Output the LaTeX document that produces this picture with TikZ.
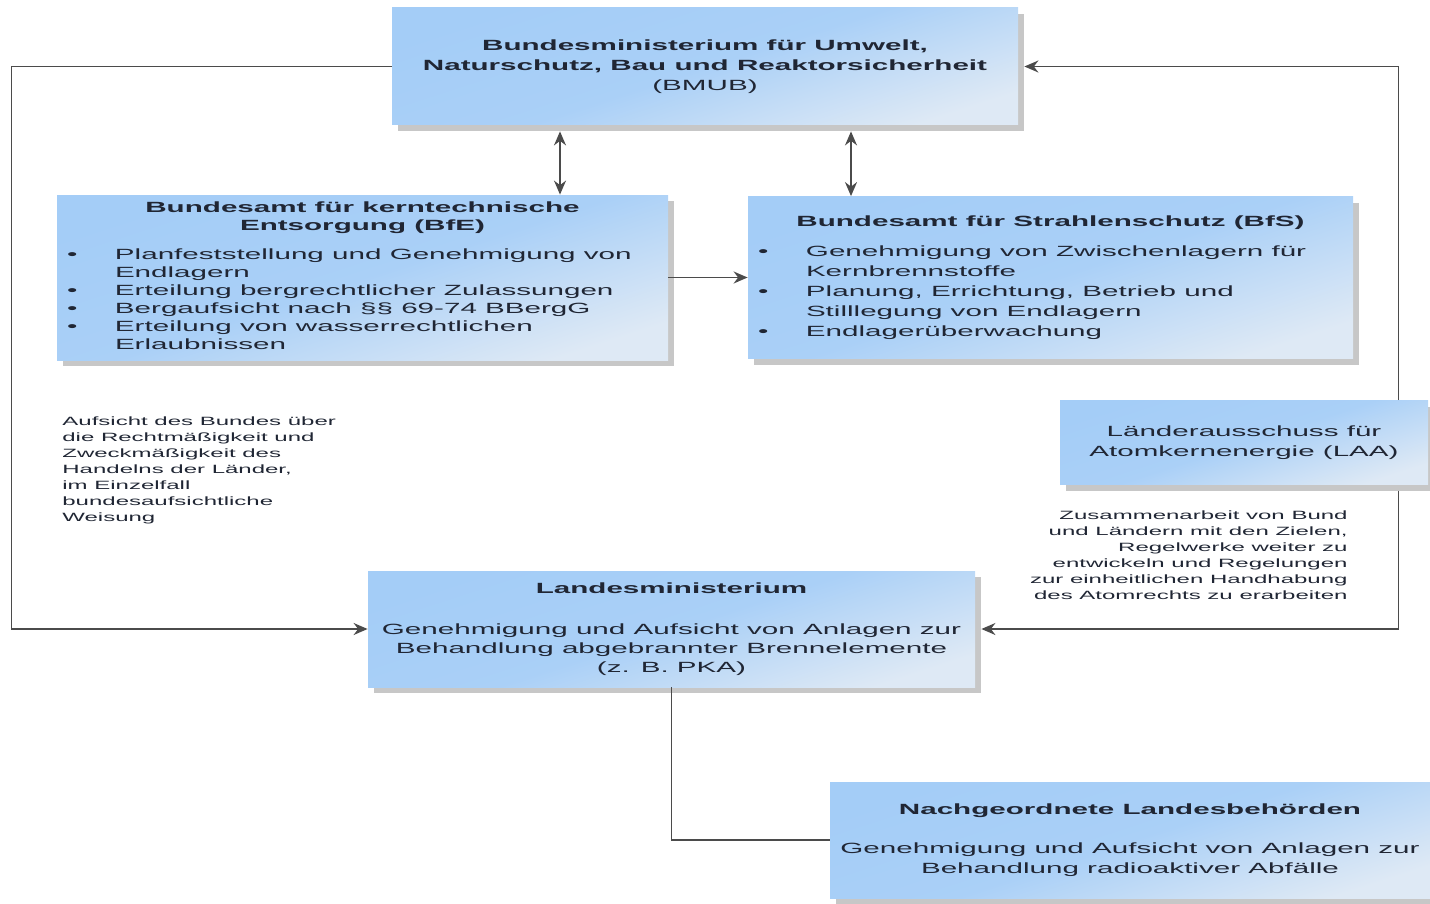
\documentclass[tikz,border=0pt]{standalone}
\usepackage{fontspec}
\setmainfont{Liberation Sans}[FakeStretch=2.0]
\usepackage{tikz}
\usetikzlibrary{positioning,shadows,arrows.meta}
\definecolor{boxblau}{RGB}{164,205,247}
\definecolor{boxhell}{RGB}{222,233,245}
\definecolor{schrift}{RGB}{32,38,52}
\definecolor{linie}{RGB}{75,75,75}
\tikzstyle{amt} = [rectangle, inner xsep=5pt, inner ysep=2pt, align=center, text=schrift, top color=boxblau, bottom color=boxhell, middle color=boxblau!90!boxhell, shading angle=18, drop shadow={shadow xshift=3pt, shadow yshift=-3pt, fill=black!22, opacity=1}, font=\fontsize{7.4}{10}\selectfont]
\tikzstyle{notiz} = [inner sep=0pt, text=schrift, font=\fontsize{6}{8}\selectfont]
\tikzstyle{pfeil} = [thick, draw=linie, ->, >={Stealth[length=7pt,width=6pt]}]
\tikzstyle{verbindung} = [thick, draw=linie]

\begin{document}
\begin{tikzpicture}[node distance=105.5pt]
\useasboundingbox (0,0) rectangle (715pt,-452pt);

\node (bmub) [amt, minimum width=313pt, minimum height=58.5pt] at (352.5pt,-33.25pt) {\textbf{Bundesministerium für Umwelt,}\\ \textbf{Naturschutz, Bau und Reaktorsicherheit}\\ (BMUB)};

\node (bfe) [amt, minimum width=305.5pt, minimum height=82.5pt, below of=bmub, yshift=0pt, xshift=-171.25pt, font=\fontsize{7.4}{9}\selectfont] {%
\begin{tabular}{@{}p{24pt}@{}p{271.5pt}@{}}
\multicolumn{2}{@{}c@{}}{\bfseries Bundesamt für kerntechnische}\\
\multicolumn{2}{@{}c@{}}{\bfseries Entsorgung (BfE)}\\[5.5pt]
\textbullet & Planfeststellung und Genehmigung von\\
 & Endlagern\\
\textbullet & Erteilung bergrechtlicher Zulassungen\\
\textbullet & Bergaufsicht nach §§ 69-74 BBergG\\
\textbullet & Erteilung von wasserrechtlichen\\
 & Erlaubnissen
\end{tabular}};

\node (bfs) [amt, minimum width=302.5pt, minimum height=81pt, below of=bmub, yshift=0pt, xshift=172.75pt] {%
\begin{tabular}{@{}p{24pt}@{}p{268.5pt}@{}}
\multicolumn{2}{@{}c@{}}{\bfseries Bundesamt für Strahlenschutz (BfS)}\\[5pt]
\textbullet & Genehmigung von Zwischenlagern für\\
 & Kernbrennstoffe\\
\textbullet & Planung, Errichtung, Betrieb und\\
 & Stilllegung von Endlagern\\
\textbullet & Endlagerüberwachung
\end{tabular}};

\node (laa) [amt, minimum width=184pt, minimum height=42pt, below of=bfs, yshift=23pt, xshift=96.75pt] {Länderausschuss für\\ Atomkernenergie (LAA)};

\node (lm) [amt, minimum width=303.5pt, minimum height=58pt, below of=bfe, yshift=-70.25pt, xshift=154.5pt, font=\fontsize{7.4}{9.5}\selectfont] {\textbf{Landesministerium}\\[11pt] Genehmigung und Aufsicht von Anlagen zur\\ Behandlung abgebrannter Brennelemente\\ (z. B. PKA)};

\node (nl) [amt, minimum width=300pt, minimum height=58pt, below of=lm, yshift=0pt, xshift=229.25pt, font=\fontsize{7.4}{9.75}\selectfont] {\textbf{Nachgeordnete Landesbehörden}\\[10pt] Genehmigung und Aufsicht von Anlagen zur\\ Behandlung radioaktiver Abfälle};

\node (aufsicht) [notiz, anchor=north west, align=left] at (31pt,-208pt) {Aufsicht des Bundes über\\ die Rechtmäßigkeit und\\ Zweckmäßigkeit des\\ Handelns der Länder,\\ im Einzelfall\\ bundesaufsichtliche\\ Weisung};
\node (zusammen) [notiz, anchor=north east, align=right] at (674pt,-255pt) {Zusammenarbeit von Bund\\ und Ländern mit den Zielen,\\ Regelwerke weiter zu\\ entwickeln und Regelungen\\ zur einheitlichen Handhabung\\ des Atomrechts zu erarbeiten};

\draw [pfeil, <->] ([xshift=-72.5pt, yshift=-3pt]bmub.south) -- ([xshift=98.75pt]bfe.north);
\draw [pfeil, <->] ([xshift=73pt, yshift=-3pt]bmub.south) -- ([xshift=-99.75pt]bfs.north);
\draw [pfeil] (bfe.east) -- (bfs.west);
\draw [pfeil] (bmub.west) -- ++(-190pt,0) |- (lm.west);
\draw [pfeil] ([xshift=-15pt]laa.north east) |- ([xshift=3pt]bmub.east);
\draw [pfeil] ([xshift=-15pt, yshift=-3pt]laa.south east) |- ([xshift=3pt]lm.east);
\draw [verbindung] (lm.south) |- (nl.west);

\end{tikzpicture}
\end{document}
